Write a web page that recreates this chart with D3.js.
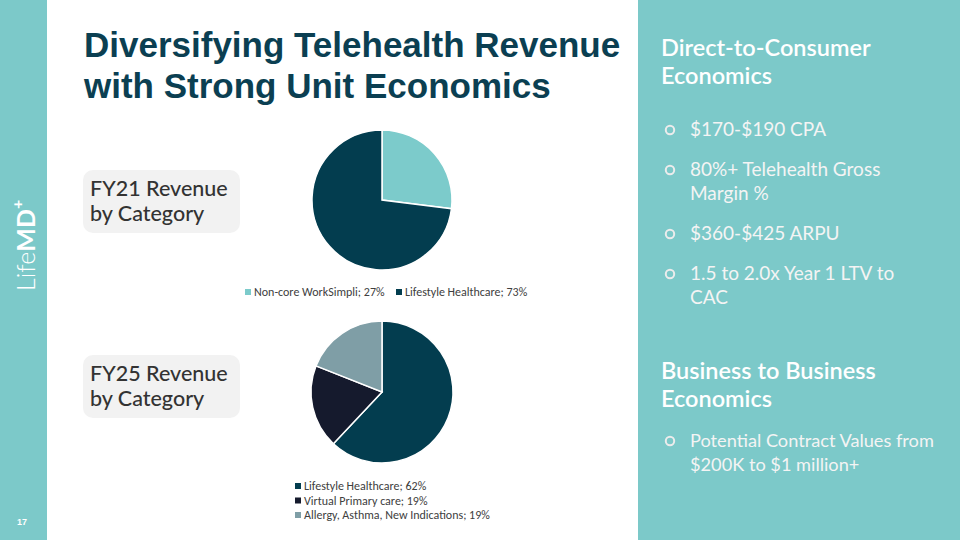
<!DOCTYPE html>
<html><head><meta charset="utf-8">
<script src="https://cdn.jsdelivr.net/npm/d3@7"></script>
<style>html,body{margin:0;padding:0;background:#fff;}svg{display:block;}</style>
</head><body>
<svg id="c" width="960" height="540"></svg>
<script>
// ---- data ----
const fy21Categories = ["Non-core WorkSimpli", "Lifestyle Healthcare"];
const fy21Values = [27, 73];
const fy25Categories = ["Lifestyle Healthcare", "Virtual Primary care", "Allergy, Asthma, New Indications"];
const fy25Values = [62, 19, 19];
const titleLines = ["Diversifying Telehealth Revenue", "with Strong Unit Economics"];
const dtcHeading = ["Direct-to-Consumer", "Economics"];
const dtcBullets = [["$170-$190 CPA"], ["80%+ Telehealth Gross", "Margin %"], ["$360-$425 ARPU"], ["1.5 to 2.0x Year 1 LTV to", "CAC"]];
const b2bHeading = ["Business to Business", "Economics"];
const b2bBullets = [["Potential Contract Values from", "$200K to $1 million+"]];

const teal = "#7CC9C9";
const svg = d3.select("#c");

// backgrounds
svg.append("rect").attr("x",0).attr("y",0).attr("width",47).attr("height",540).attr("fill",teal);
svg.append("rect").attr("x",638).attr("y",0).attr("width",322).attr("height",540).attr("fill",teal);

// logo (vertical)
const logo = svg.append("text").attr("transform","translate(35,291) rotate(-90)")
  .attr("font-family","Lato, 'Open Sans', sans-serif").attr("font-size",25).attr("fill","#fff");
logo.append("tspan").attr("font-weight",300).text("Life");
logo.append("tspan").attr("font-weight",700).text("MD");
logo.append("tspan").attr("font-weight",700).attr("font-size",16).attr("dy",-12).text("+");

svg.append("text").attr("x",22).attr("y",525).attr("text-anchor","middle")
  .attr("font-family","Liberation Sans, Arial, sans-serif").attr("font-weight",700).attr("font-size",9).attr("fill","#fff").text("17");

// title
svg.append("g").selectAll("text").data(titleLines).join("text")
  .attr("x",84).attr("y",(d,i)=>57+i*41)
  .attr("font-family","Liberation Sans, Arial, sans-serif").attr("font-weight",700).attr("font-size",35)
  .attr("fill","#0B3F52").text(d=>d);

// label boxes
function labelBox(y, lines){
  svg.append("rect").attr("x",83).attr("y",y).attr("width",157).attr("height",63).attr("rx",10).attr("fill","#F2F2F2");
  svg.append("g").selectAll("text").data(lines).join("text")
    .attr("x",90).attr("y",(d,i)=>y+26+i*25)
    .attr("font-family","Lato, 'Open Sans', sans-serif").attr("font-weight",500).attr("font-size",21.5)
    .attr("fill","#333").text(d=>d);
}
labelBox(170, ["FY21 Revenue","by Category"]);
labelBox(355, ["FY25 Revenue","by Category"]);

// pies
function drawPie(cx, cy, r, cats, vals, colors){
  const data = cats.map((c,i)=>({c, v: vals[i]}));
  const pie = d3.pie().value(d=>d.v).sort(null);
  const arc = d3.arc().innerRadius(0).outerRadius(r);
  const color = d3.scaleOrdinal().domain(cats).range(colors);
  svg.append("g").attr("transform",`translate(${cx},${cy})`)
    .selectAll("path").data(pie(data)).join("path")
    .attr("d",arc).attr("fill",d=>color(d.data.c)).attr("stroke","#fff").attr("stroke-width",1.5);
  return color;
}
const c21 = drawPie(382, 200, 70, fy21Categories, fy21Values, ["#7CCBCB","#033D4F"]);
const c25 = drawPie(382, 392, 71, fy25Categories, fy25Values, ["#033D4F","#151A2D","#7F9EA6"]);

const legendFont = "Carlito, 'Liberation Sans', Arial, sans-serif";
// legend 1 (horizontal)
const l1x = [245, 396];
fy21Categories.forEach((c,i)=>{
  svg.append("rect").attr("x",l1x[i]).attr("y",289).attr("width",6).attr("height",6).attr("fill",c21(c));
  svg.append("text").attr("x",l1x[i]+9).attr("y",296).attr("font-family",legendFont).attr("font-size",12)
    .attr("fill","#404040").text(`${c}; ${fy21Values[i]}%`);
});
// legend 2 (vertical)
fy25Categories.forEach((c,i)=>{
  const y = 490 + i*14.5;
  svg.append("rect").attr("x",295).attr("y",y-7).attr("width",6).attr("height",6).attr("fill",c25(c));
  svg.append("text").attr("x",304).attr("y",y).attr("font-family",legendFont).attr("font-size",12)
    .attr("fill","#404040").text(`${c}; ${fy25Values[i]}%`);
});

// right panel text
const panelFont = "Lato, 'Open Sans', sans-serif";
function heading(lines, y0){
  svg.append("g").selectAll("text").data(lines).join("text")
    .attr("x",661).attr("y",(d,i)=>y0+i*28)
    .attr("font-family",panelFont).attr("font-weight",600).attr("font-size",23.5).attr("fill","#fff").text(d=>d);
}
function bullets(list, ys, size){
  list.forEach((lines,k)=>{
    const y0 = ys[k];
    svg.append("circle").attr("cx",670).attr("cy",y0-6).attr("r",4.2)
      .attr("fill","none").attr("stroke","#ECECEC").attr("stroke-width",2);
    lines.forEach((t,j)=>{
      svg.append("text").attr("x",690).attr("y",y0+j*24)
        .attr("font-family",panelFont).attr("font-weight",400).attr("font-size",size).attr("fill","#F4F4F4").text(t);
    });
  });
}
heading(dtcHeading, 56);
bullets(dtcBullets, [136, 176, 240, 280], 19);
heading(b2bHeading, 379);
bullets(b2bBullets, [447], 18.2);
</script>
</body></html>
